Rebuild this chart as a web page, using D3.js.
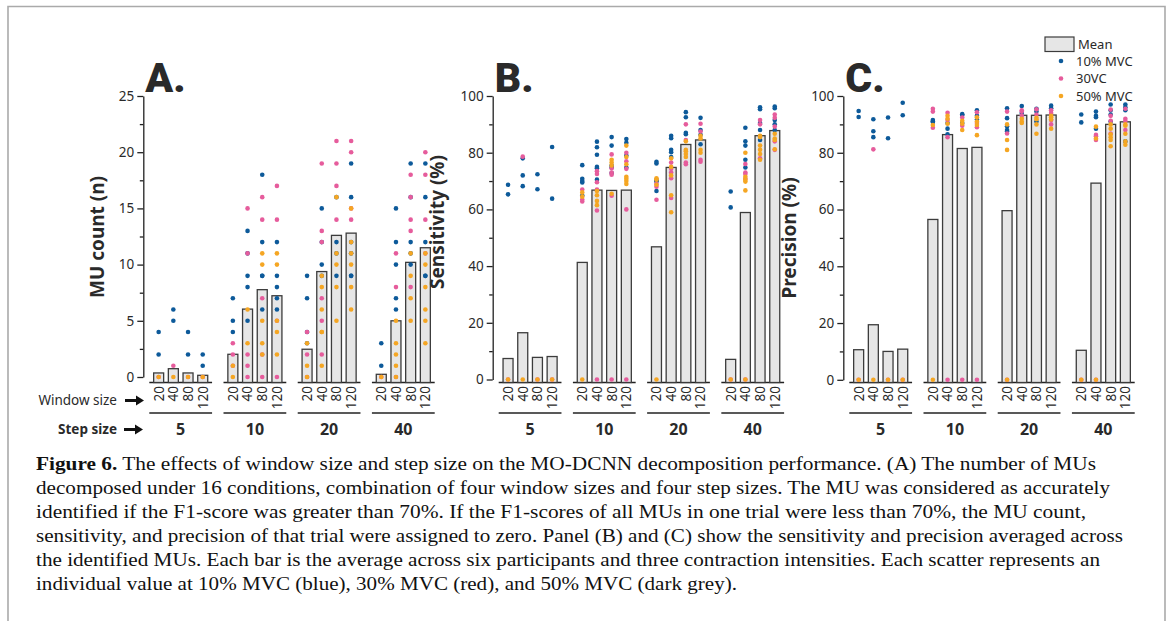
<!DOCTYPE html>
<html lang="en">
<head>
<meta charset="UTF-8">
<script src="https://cdn.jsdelivr.net/npm/d3@7"></script>
<title>Figure 6</title>
<style>
  body { margin: 0; background: #fff; }
  svg text { font-family: "Noto Sans", sans-serif; fill: #2a2a2a; }
  svg text.cap { font-family: "Liberation Serif", serif; fill: #111; }
</style>
</head>
<body>
<svg id="fig" width="1171" height="621"></svg>
<script>
const steps = ["5", "10", "20", "40"];
const windows = ["20", "40", "80", "120"];

// A. MU count  -- [step][window]
const muMean = [[0.36, 0.74, 0.36, 0.15], [2.02, 6.04, 7.77, 7.23], [2.47, 9.38, 12.6, 12.8], [0.24, 5.0, 10.2, 11.5]];
const mu10 = [
  [[4, 2], [6, 5], [4, 2], [2, 1]],
  [[7, 5, 4], [13, 11, 9, 8, 5], [18, 12, 9, 9, 6], [12, 9, 8, 7, 6]],
  [[9, 7, 4, 3], [15, 12, 10, 9], [16, 12, 11, 9], [19, 16, 12, 11, 9, 9]],
  [[3, 1], [15, 12, 10, 7, 6], [19, 16, 12, 11, 10], [19, 16, 12, 9, 9]]
];
const mu30 = [
  [[0], [1], [0], [0]],
  [[3, 2, 1], [15, 11, 2, 1, 0], [16, 14, 7, 2, 0], [17, 14, 5, 0]],
  [[4, 2, 0], [19, 13, 12, 7, 5, 2], [21, 19, 17, 14], [21, 20, 15, 14]],
  [[0], [11, 8, 0], [18, 16, 14, 13, 8], [20, 18, 14, 11]]
];
const mu50 = [
  [[0], [0], [0], [0]],
  [[1, 0], [6, 3], [11, 10, 5, 3, 2], [11, 10, 5, 4, 2]],
  [[3, 1, 0], [9, 8, 6, 4, 4, 1], [16, 11, 10, 8, 5], [15, 12, 11, 10, 8, 6]],
  [[0], [5, 3, 2, 1, 0], [11, 9, 7, 5], [11, 10, 8, 6, 5, 3]]
];

// B. Sensitivity (%)
const sensMean = [[7.4, 16.5, 7.8, 8.1], [41.3, 66.8, 66.7, 66.8], [46.8, 74.8, 82.9, 84.5], [7.1, 58.9, 86.0, 87.8]];
const sens10 = [
  [[68.7, 65.3], [78, 72, 68.2], [72.4, 67.1], [82, 63.8]],
  [[75.6, 70.8, 70, 69.5, 64.9], [83.9, 81.9, 79.3, 75, 74.5, 70.5], [85.5, 82.5, 75.5, 74.8, 72.8], [84.8, 83.5, 79, 74.8]],
  [[76.8, 76.2, 70.3, 69.8, 66.5], [86, 85.1, 81, 80.2, 78.5], [94.3, 92.5, 87, 86.5], [92.3, 88, 86.3, 83]],
  [[66.3, 60.7], [88.8, 84, 82.5, 77.5, 74.8], [96, 95.3, 90.5, 88, 84.5], [96.3, 95.7, 91.5, 90, 88]]
];
const sens30 = [
  [[0], [78.6], [0], [0]],
  [[67, 63.5, 62.8], [73.5, 72.5, 69.6, 67, 59.6, 0], [79.4, 74.5, 73, 72.2, 64.8, 0], [80, 77, 74.3, 60, 0]],
  [[69, 68, 63.4], [76.5, 74.3, 73, 71, 64], [90, 84.5, 76.5, 75.9], [90.2, 87.5, 77.5, 76.8]],
  [[0], [76, 73, 72.5, 70.8, 0], [91.5, 90, 78], [93.5, 92.3, 89.2, 84, 81]]
];
const sens50 = [
  [[0], [0], [0], [0]],
  [[66, 64.5, 0], [66.5, 65, 63, 61.5], [77.5, 76.5, 75.5, 65.5], [82.5, 78.5, 75.9, 71.5, 70.8, 70, 69]],
  [[71, 70.5, 68.7, 0], [78, 75, 72, 65, 59], [84, 81, 80.5, 79.5, 78.5], [86, 85, 81, 80]],
  [[0], [80, 71.5, 70.5, 69.8, 66.7, 0], [86, 85.5, 82.5, 81, 79.5, 77.5], [86.7, 85, 84.5, 81.2]]
];

// C. Precision (%)
const precMean = [[10.6, 19.4, 10.0, 10.8], [56.5, 86.4, 81.5, 81.9], [59.6, 93.2, 93.2, 93.3], [10.4, 69.3, 90.0, 90.9]];
const prec10 = [
  [[94.7, 92.6], [91.8, 87.6, 85.5], [92.4, 85.1], [97.6, 93.2]],
  [[91.5, 91, 90.8], [90.5, 88.5, 86.5], [93.6, 93.3, 90.5], [95, 93, 91.7]],
  [[95.7, 92.2, 89.3, 88, 87.5], [96.5, 94], [95.5, 94.5, 91], [96.6, 95.7]],
  [[93.5, 90.7], [94.5, 93, 92.5, 88.5], [97, 95, 93.5, 91], [97, 96, 95, 84]]
];
const prec30 = [
  [[0], [81.2], [0], [0]],
  [[95.5, 94.5, 88.8], [94.1, 91.5, 85.5, 0], [92.4, 89.5, 0], [94.3, 90.5, 89, 0]],
  [[94.5, 86.8, 0], [95, 94.5, 93], [95.3, 93.5], [95, 94, 91.5, 90]],
  [[0], [86.3, 85.8, 84.5, 0], [95.2, 93, 91.3, 86.8], [95.5, 92, 91.2, 88]]
];
const prec50 = [
  [[0], [0], [0], [0]],
  [[89.8, 0], [93, 92, 90.2], [91.3, 90.2, 88], [92.5, 91, 89.8, 86.2]],
  [[90, 84.5, 81, 0], [92, 91, 90.5], [92.3, 91.8, 90, 86.7], [93, 92.5, 91.7, 88.5]],
  [[0], [89.2, 85, 0], [90, 88.5, 86.5, 85.5, 84.5, 82.3], [90, 89.5, 86.7, 84, 82.8]]
];

const legendLabels = ["Mean", "10% MVC", "30VC", "50% MVC"];
const colors = { mvc10: "#0d5a9a", mvc30: "#e65c9c", mvc50: "#f5a623" };

const captionLines = [
  ["Figure 6.", " The effects of window size and step size on the MO-DCNN decomposition performance. (A) The number of MUs"],
  ["", "decomposed under 16 conditions, combination of four window sizes and four step sizes. The MU was considered as accurately"],
  ["", "identified if the F1-score was greater than 70%. If the F1-scores of all MUs in one trial were less than 70%, the MU count,"],
  ["", "sensitivity, and precision of that trial were assigned to zero. Panel (B) and (C) show the sensitivity and precision averaged across"],
  ["", "the identified MUs. Each bar is the average across six participants and three contraction intensities. Each scatter represents an"],
  ["", "individual value at 10% MVC (blue), 30% MVC (red), and 50% MVC (dark grey)."]
];
const captionEnds = [1096, 1110, 1086, 1123, 1100, 737];

const svg = d3.select("#fig");

// figure frame
svg.append("path")
  .attr("d", "M8,640 V6.5 H1165 V640")
  .attr("fill", "none").attr("stroke", "#aaa").attr("stroke-width", 1.6);

const baseY = 382.5, lineY = 413;

const panels = [
  { tag: "A.", axisX: 143.3, y0: 377, max: 25, major: 5, minor: 2.5, title: "MU count (n)", tx: 104, ty: 237,
    mean: muMean, s10: mu10, s30: mu30, s50: mu50 },
  { tag: "B.", axisX: 492.7, y0: 379.5, max: 100, major: 20, minor: 10, title: "Sensitivity (%)", tx: 444, ty: 222,
    mean: sensMean, s10: sens10, s30: sens30, s50: sens50 },
  { tag: "C.", axisX: 843.3, y0: 379.8, max: 100, major: 20, minor: 10, title: "Precision (%)", tx: 796, ty: 238,
    mean: precMean, s10: prec10, s30: prec30, s50: prec50 }
];

panels.forEach(p => {
  const g = svg.append("g");
  const y = d3.scaleLinear().domain([0, p.max]).range([p.y0, 96]);
  const x0 = d3.scaleBand().domain(steps)
    .range([p.axisX + 8, p.axisX + 8 + 281.4]).paddingInner(0.208).paddingOuter(0);
  const x1 = d3.scaleBand().domain(windows)
    .range([0, x0.bandwidth()]).paddingInner(0.32).paddingOuter(0.16);

  // y axis
  const ax = g.append("g").attr("transform", `translate(${p.axisX},0)`)
    .call(d3.axisLeft(y).tickValues(d3.range(0, p.max + 0.01, p.major))
      .tickSize(6).tickSizeOuter(0).tickPadding(3));
  ax.selectAll("text").attr("font-size", 13.5).style("font-family", "Noto Sans").attr("fill", "#333");
  const minorVals = d3.range(p.minor, p.max, p.major);
  const mx = g.append("g").attr("transform", `translate(${p.axisX},0)`)
    .call(d3.axisLeft(y).tickValues(minorVals).tickSize(3.5).tickFormat(""));
  mx.select(".domain").remove();
  g.selectAll(".domain, .tick line").attr("stroke", "#222").attr("stroke-width", 1.3);

  // panel tag and y title
  g.append("text").attr("x", p.axisX + 2).attr("y", 92)
    .attr("font-size", 41).attr("font-weight", 900).style("font-family", "Roboto")
    .attr("fill", "#000").text(p.tag);
  g.append("text").attr("transform", `translate(${p.tx},${p.ty}) rotate(-90)`)
    .attr("text-anchor", "middle").attr("font-size", 19).attr("font-weight", 700)
    .attr("fill", "#111").text(p.title);

  steps.forEach((s, si) => {
    const gx = x0(s);
    // group baseline and underline
    [baseY, lineY].forEach(ly => {
      g.append("line").attr("x1", gx - 2).attr("x2", gx + x0.bandwidth() + 2)
        .attr("y1", ly).attr("y2", ly).attr("stroke", "#222").attr("stroke-width", 1.5);
    });
    g.append("text").attr("x", gx + x0.bandwidth() / 2).attr("y", 435)
      .attr("text-anchor", "middle").attr("font-size", 16).attr("font-weight", 700)
      .attr("fill", "#111").text(s);

    windows.forEach((w, wi) => {
      const bx = gx + x1(w), cx = bx + x1.bandwidth() / 2;
      g.append("rect").attr("x", bx).attr("y", y(p.mean[si][wi]))
        .attr("width", x1.bandwidth()).attr("height", baseY - y(p.mean[si][wi]))
        .attr("fill", "#e6e6e6").attr("stroke", "#3c3c3c").attr("stroke-width", 1.3);
      g.append("text").attr("transform", `translate(${cx},386) rotate(-90)`)
        .attr("text-anchor", "end").attr("dy", "0.36em").attr("font-size", 13.5)
        .attr("fill", "#333").text(w);

      [["mvc10", p.s10], ["mvc30", p.s30], ["mvc50", p.s50]].forEach(([k, arr]) => {
        g.selectAll(null).data(arr[si][wi]).enter().append("circle")
          .attr("cx", cx).attr("cy", d => y(d)).attr("r", 2.3).attr("fill", colors[k]);
      });
    });
  });
});

// axis row labels (panel A only)
function arrow(x, yy) {
  svg.append("path")
    .attr("d", `M${x},${yy - 1.6} H${x + 11} V${yy - 5} L${x + 19},${yy} L${x + 11},${yy + 5} V${yy + 1.6} H${x} Z`)
    .attr("fill", "#111");
}
svg.append("text").attr("x", 117).attr("y", 405).attr("text-anchor", "end")
  .attr("font-size", 13.5).attr("fill", "#222").text("Window size");
arrow(125, 400.5);
svg.append("text").attr("x", 117).attr("y", 434).attr("text-anchor", "end")
  .attr("font-size", 13.5).attr("font-weight", 700).attr("fill", "#111").text("Step size");
arrow(124, 429.5);

// legend
const lg = svg.append("g");
lg.append("rect").attr("x", 1045).attr("y", 37).attr("width", 29).attr("height", 14.5)
  .attr("fill", "#e6e6e6").attr("stroke", "#3c3c3c").attr("stroke-width", 1.2);
lg.append("text").attr("x", 1078).attr("y", 49).attr("font-size", 13).text(legendLabels[0]);
["mvc10", "mvc30", "mvc50"].forEach((k, i) => {
  const ly = 61 + i * 17.5;
  lg.append("circle").attr("cx", 1061).attr("cy", ly).attr("r", 2.3).attr("fill", colors[k]);
  lg.append("text").attr("x", 1076).attr("y", ly + 4.5).attr("font-size", 13).text(legendLabels[i + 1]);
});

// caption
captionLines.forEach((ln, i) => {
  const t = svg.append("text").attr("class", "cap").attr("x", 36).attr("y", 470 + i * 24)
    .attr("font-size", 19.5)
    .attr("textLength", captionEnds[i] - 36).attr("lengthAdjust", "spacingAndGlyphs");
  if (ln[0]) t.append("tspan").attr("font-weight", 700).text(ln[0]);
  t.append("tspan").text(ln[1]);
});
</script>
</body>
</html>
